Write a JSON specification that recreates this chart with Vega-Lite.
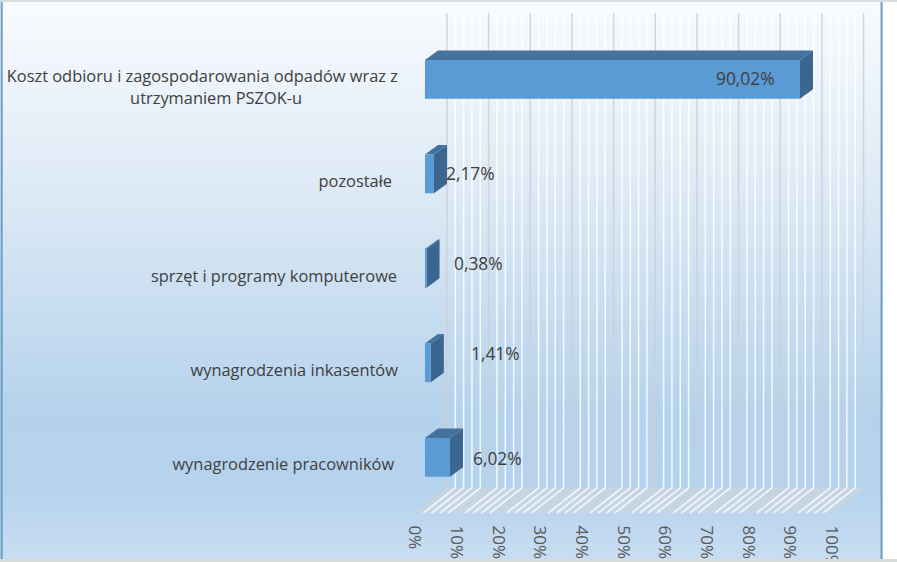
{
"$schema":"https://vega.github.io/schema/vega-lite/v6.json",
"width":882,"height":557,
"autosize":"none",
"padding":{"left":0,"top":2,"right":15,"bottom":3},
"background":"#ffffff",
"view":{"stroke":null,"fill":{"gradient":"linear","x1":0,"y1":0,"x2":0,"y2":1,"stops":[{"offset":0,"color":"#f8fbfe"},{"offset":0.35,"color":"#dce9f5"},{"offset":0.75,"color":"#b4d2ec"},{"offset":0.88,"color":"#b6d3ee"},{"offset":1,"color":"#c8ddf1"}]}},
"datasets":{
"bars":[
{"category":"Koszt odbioru i zagospodarowania odpadów wraz z utrzymaniem PSZOK-u","value":90.02,"label":"90,02%","rank":4,"labelX":69.85,"labelY":4.505},
{"category":"pozostałe","value":2.17,"label":"2,17%","rank":3,"labelX":5.04,"labelY":3.5},
{"category":"sprzęt i programy komputerowe","value":0.38,"label":"0,38%","rank":2,"labelX":6.96,"labelY":2.547},
{"category":"wynagrodzenia inkasentów","value":1.41,"label":"1,41%","rank":1,"labelX":11.04,"labelY":1.595},
{"category":"wynagrodzenie pracowników","value":6.02,"label":"6,02%","rank":0,"labelX":11.52,"labelY":0.484}
],
"names":[
{"text":"Koszt odbioru i zagospodarowania odpadów wraz z","end":-6.5,"pos":4.536},
{"text":"utrzymaniem PSZOK-u","end":-29.5,"pos":4.304},
{"text":"pozostałe","end":-7.9,"pos":3.425},
{"text":"sprzęt i programy komputerowe","end":-6.7,"pos":2.42},
{"text":"wynagrodzenia inkasentów","end":-6.5,"pos":1.425},
{"text":"wynagrodzenie pracowników","end":-7.4,"pos":0.431}
],
"gridMajor":[{"p":0},{"p":10},{"p":20},{"p":30},{"p":40},{"p":50},{"p":60},{"p":70},{"p":80},{"p":90},{"p":100}],
"gridMinor":[{"p":2},{"p":4},{"p":6},{"p":8},{"p":12},{"p":14},{"p":16},{"p":18},{"p":22},{"p":24},{"p":26},{"p":28},{"p":32},{"p":34},{"p":36},{"p":38},{"p":42},{"p":44},{"p":46},{"p":48},{"p":52},{"p":54},{"p":56},{"p":58},{"p":62},{"p":64},{"p":66},{"p":68},{"p":72},{"p":74},{"p":76},{"p":78},{"p":82},{"p":84},{"p":86},{"p":88},{"p":92},{"p":94},{"p":96},{"p":98}],
"floor":[{"d":0,"a":-2.4,"b":97.6,"f":-0.088},{"d":1,"a":5.28,"b":105.28,"f":0.177}],
"edges":[{"at":-101.6},{"at":109.6}],
"bands":[{"from":-102,"to":113.3,"at":5.33,"w":2},{"from":-102,"to":113.3,"at":-0.59,"w":3}]
},
"layer":[
{"data":{"name":"floor"},"mark":{"type":"area","orient":"horizontal","color":"#cbd6e0","opacity":0.8},
"encoding":{"y":{"field":"f","type":"quantitative","scale":{"domain":[-0.575,5.319],"nice":false,"zero":false},"axis":null},
"x":{"field":"a","type":"quantitative","scale":{"domain":[-102,109.7],"nice":false,"zero":false},
"axis":{"orient":"bottom","offset":-34,"values":[0,10,20,30,40,50,60,70,80,90,100],"labelExpr":"datum.value+'%'","labelAngle":90,"labelAlign":"left","labelBaseline":"middle","labelOffset":-11,"labelPadding":0,"tickSize":0,"ticks":false,"domain":false,"grid":false,"title":null,"labelFont":"Open Sans","labelFontSize":17,"labelColor":"#595959","labelOverlap":false,"labelFlush":false}},
"x2":{"field":"b"}}},
{"data":{"name":"gridMinor"},"transform":[{"calculate":"datum.p+5.28","as":"wx"},{"calculate":"datum.p-2.4","as":"fx"},{"calculate":"0.177","as":"y0"},{"calculate":"5.203","as":"y1"},{"calculate":"-0.088","as":"y2"}],
"layer":[
{"mark":{"type":"rule","color":"#ffffff","strokeWidth":1.5,"opacity":0.85},"encoding":{"x":{"field":"wx","type":"quantitative"},"y":{"field":"y0","type":"quantitative"},"y2":{"field":"y1"}}},
{"mark":{"type":"rule","color":"#ffffff","strokeWidth":1.5,"opacity":0.85},"encoding":{"x":{"field":"wx","type":"quantitative"},"x2":{"field":"fx"},"y":{"field":"y0","type":"quantitative"},"y2":{"field":"y2"}}}
]},
{"data":{"name":"gridMajor"},"transform":[{"calculate":"datum.p+5.28","as":"wx"},{"calculate":"datum.p-2.4","as":"fx"},{"calculate":"0.177","as":"y0"},{"calculate":"5.203","as":"y1"},{"calculate":"-0.088","as":"y2"}],
"layer":[
{"mark":{"type":"rule","color":"#cfcfcf","strokeWidth":1.5,"opacity":0.85},"encoding":{"x":{"field":"wx","type":"quantitative"},"y":{"field":"y0","type":"quantitative"},"y2":{"field":"y1"}}},
{"mark":{"type":"rule","color":"#cfcfcf","strokeWidth":1.5,"opacity":0.6},"encoding":{"x":{"field":"wx","type":"quantitative"},"x2":{"field":"fx"},"y":{"field":"y0","type":"quantitative"},"y2":{"field":"y2"}}}
]},
{"data":{"name":"bars"},"transform":[{"calculate":"[0,1]","as":"d"},{"flatten":["d"]},{"calculate":"datum.value+datum.d*3.12","as":"sx"},{"calculate":"datum.rank+0.295+datum.d*0.1","as":"sy0"},{"calculate":"datum.rank+0.705+datum.d*0.1","as":"sy1"},{"calculate":"datum.d*3.12","as":"tx"}],
"layer":[
{"mark":{"type":"area","orient":"vertical","color":"#3b668f"},"encoding":{"detail":{"field":"category"},"x":{"field":"sx","type":"quantitative"},"y":{"field":"sy0","type":"quantitative"},"y2":{"field":"sy1"}}},
{"mark":{"type":"area","orient":"horizontal","color":"#44729f"},"encoding":{"detail":{"field":"category"},"y":{"field":"sy1","type":"quantitative"},"x":{"field":"tx","type":"quantitative"},"x2":{"field":"sx"}}}
]},
{"data":{"name":"bars"},"transform":[{"calculate":"datum.rank+0.295","as":"y0"},{"calculate":"datum.rank+0.705","as":"y1"},{"calculate":"0","as":"zero"}],
"mark":{"type":"rect","color":"#5b9bd5"},"encoding":{"x":{"field":"zero","type":"quantitative"},"x2":{"field":"value"},"y":{"field":"y0","type":"quantitative"},"y2":{"field":"y1"}}},
{"data":{"name":"bars"},"mark":{"type":"text","align":"left","baseline":"middle","dy":1,"font":"Open Sans","fontSize":17.4,"color":"#404040"},"encoding":{"x":{"field":"labelX","type":"quantitative"},"y":{"field":"labelY","type":"quantitative"},"text":{"field":"label","type":"nominal"}}},
{"data":{"name":"names"},"mark":{"type":"text","align":"right","baseline":"middle","dy":1,"font":"Open Sans","fontSize":16.4,"color":"#404040"},"encoding":{"x":{"field":"end","type":"quantitative"},"y":{"field":"pos","type":"quantitative"},"text":{"field":"text","type":"nominal"}}},
{"data":{"name":"edges"},"mark":{"type":"rule","color":"#6a9cc4","strokeWidth":2},"encoding":{"x":{"field":"at","type":"quantitative"}}},
{"data":{"name":"bands"},"mark":{"type":"rule","color":"#d9dcdc"},"encoding":{"x":{"field":"from","type":"quantitative"},"x2":{"field":"to"},"y":{"field":"at","type":"quantitative"},"strokeWidth":{"field":"w","type":"quantitative","scale":null}}}
]
}
